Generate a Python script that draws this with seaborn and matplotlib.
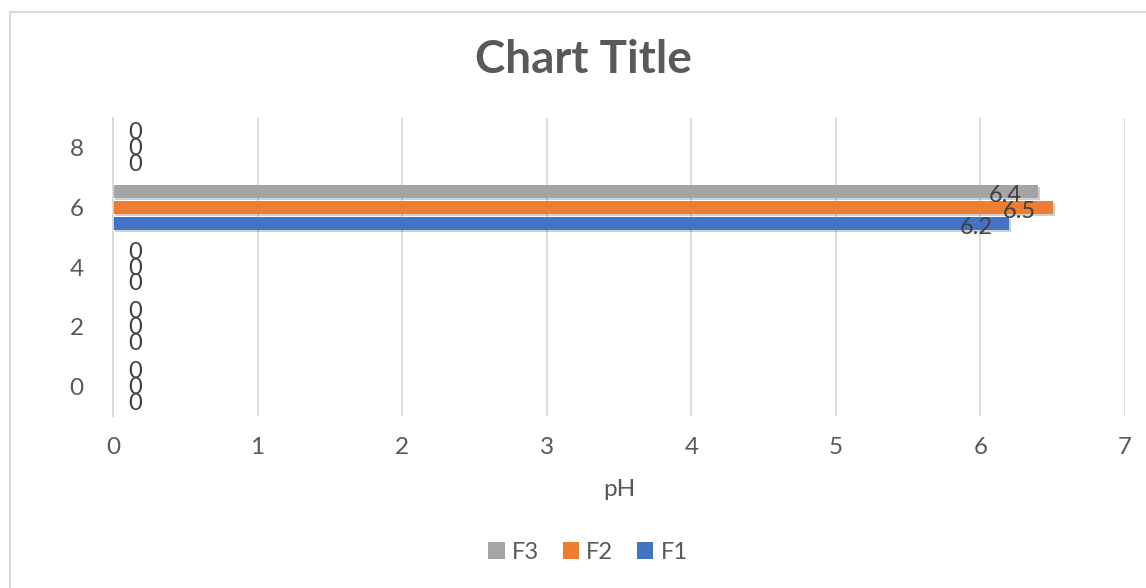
import matplotlib
matplotlib.use("Agg")
import matplotlib.pyplot as plt
import matplotlib.patheffects as pe
from matplotlib.patches import Rectangle
import seaborn as sns
import pandas as pd

# chart values
categories = ['0', '2', '4', '6', '8']
f1 = [0, 0, 0, 6.2, 0]
f2 = [0, 0, 0, 6.5, 0]
f3 = [0, 0, 0, 6.4, 0]
series = ['F3', 'F2', 'F1']
colors = {'F1': '#4472C4', 'F2': '#ED7D31', 'F3': '#A5A5A5'}
x_ticks = [0, 1, 2, 3, 4, 5, 6, 7]

df = pd.DataFrame({
    'cat': categories * 3,
    'value': f1 + f2 + f3,
    'series': ['F1'] * 5 + ['F2'] * 5 + ['F3'] * 5,
})

sns.set_style('white')
plt.rcParams['font.family'] = ['Lato', 'DejaVu Sans']
text_col = '#595959'

fig = plt.figure(figsize=(11.46, 5.88), dpi=100)
ax = fig.add_axes([0.0986, 0.2925, 0.8831, 0.5068])

sns.barplot(data=df, x='value', y='cat', hue='series', orient='h',
            order=categories[::-1], hue_order=series, palette=colors,
            saturation=1, width=0.8, gap=0.15, linewidth=0, ax=ax, legend=True)

# soft shadow under bars
for cont in ax.containers:
    for p in cont:
        p.set_path_effects([pe.SimplePatchShadow(offset=(1.5, -1.5), alpha=0.3, shadow_rgbFace='#606060'),
                            pe.Normal()])

# data labels
for cont in ax.containers:
    for p in cont:
        w = p.get_width()
        yc = p.get_y() + p.get_height() / 2
        if w == 0:
            ax.annotate('0', (0, yc), xytext=(15, -1), textcoords='offset pixels',
                        ha='left', va='center', fontsize=17, color='#404040')
        else:
            ax.annotate(f'{w:g}', (w, yc), xytext=(-17, -4), textcoords='offset pixels',
                        ha='right', va='center', fontsize=17, color='#404040')

ax.set_xlim(0, 7)
ax.set_ylim(4.5, -0.5)
ax.set_xticks(x_ticks)
ax.grid(axis='x', color='#D9D9D9', linewidth=1.3)
ax.set_axisbelow(True)
for s in ['top', 'right', 'bottom']:
    ax.spines[s].set_visible(False)
ax.spines['left'].set_color('#D9D9D9')
ax.spines['left'].set_linewidth(1.3)
ax.tick_params(axis='both', length=0, labelsize=17.5, labelcolor=text_col)
ax.tick_params(axis='x', pad=15)
ax.tick_params(axis='y', pad=21)
ax.set_ylabel('')
ax.set_xlabel('pH', fontsize=17.5, color=text_col, labelpad=15)

ax.get_legend().remove()
handles, labels = ax.get_legend_handles_labels()
fig.legend(handles, labels, loc='center', bbox_to_anchor=(0.513, 0.061), ncol=3,
           frameon=False, fontsize=17, labelcolor=text_col, handlelength=0.7,
           handleheight=0.7, handletextpad=0.3, columnspacing=1.0)

fig.text(0.509, 0.898, 'Chart Title', ha='center', va='center', fontsize=33,
         fontweight='bold', color=text_col)

fig.patches.append(Rectangle((0.0087, -0.05), 1.1, 1.0296, transform=fig.transFigure,
                             fill=False, edgecolor='#D9D9D9', linewidth=1.5))

fig.savefig('out.png', dpi=100)
